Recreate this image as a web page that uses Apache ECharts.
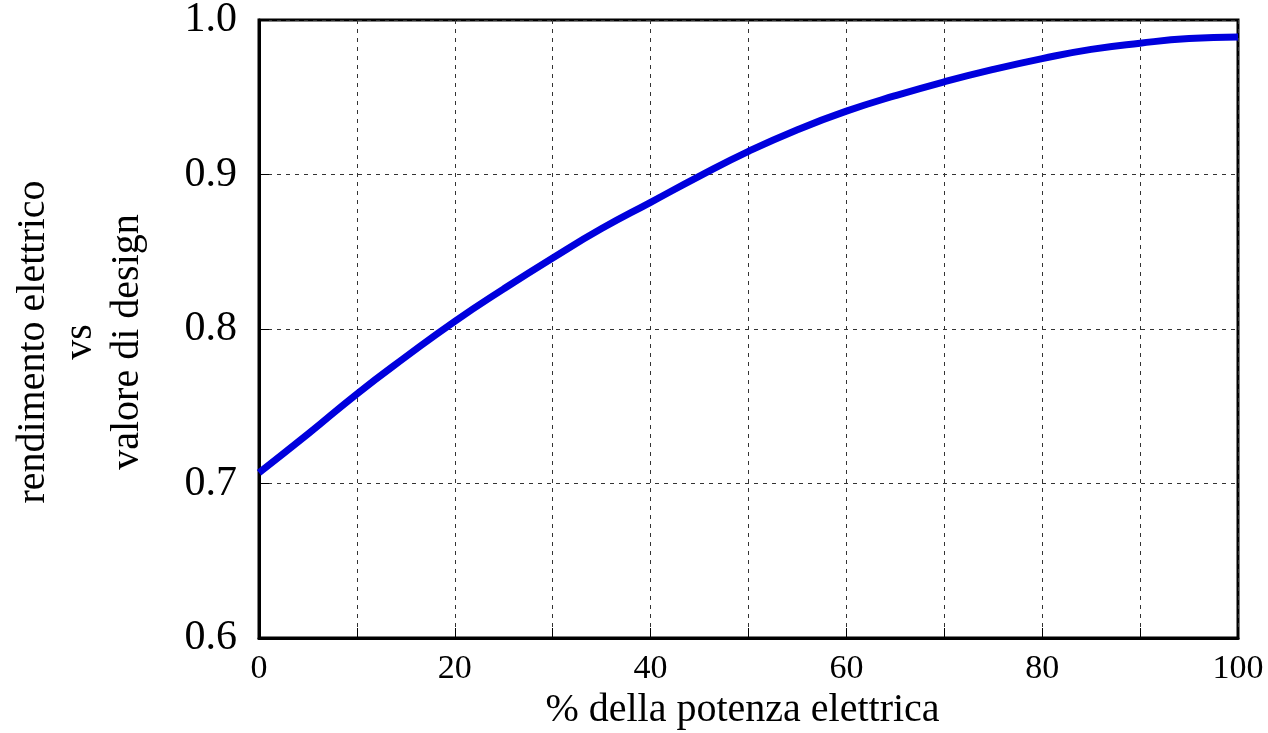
<!DOCTYPE html>
<html><head><meta charset="utf-8">
<script src="https://cdn.jsdelivr.net/npm/echarts@6/dist/echarts.min.js"></script>
<style>html,body{margin:0;padding:0;background:#fff}#c{width:1268px;height:733px}</style>
</head><body><div id="c"></div>
<script>
const xValues = [0,5,10,15,20,25,30,35,40,45,50,55,60,65,70,75,80,85,90,95,100];
const efficiency = [0.707,0.732,0.758,0.782,0.805,0.826,0.846,0.865,0.882,0.899,0.915,0.929,0.941,0.951,0.960,0.968,0.975,0.981,0.985,0.988,0.989];
const xTitle = '% della potenza elettrica';
const yTitle = 'rendimento elettrico\nvs\nvalore di design';
const FONT = '"Liberation Serif","DejaVu Serif",serif';
const chart = echarts.init(document.getElementById('c'), null, {renderer:'canvas'});
chart.setOption({
  animation:false,
  grid:{left:259,right:30,top:20,bottom:95,outerBoundsMode:'none',containLabel:false,show:true,borderColor:'#000',borderWidth:3,backgroundColor:'transparent'},
  xAxis:{type:'value',min:0,max:100,interval:10,
    name:xTitle,nameLocation:'middle',nameGap:46,
    nameTextStyle:{fontFamily:FONT,fontSize:40,color:'#000',padding:[0,12,0,0]},
    axisLine:{show:true,lineStyle:{color:'#000',width:3}},
    axisTick:{show:true,inside:true,length:10,lineStyle:{color:'#000',width:1}},
    axisLabel:{margin:14,fontFamily:FONT,fontSize:34,color:'#000',formatter:v=>(v%20===0?String(v):'')},
    splitLine:{show:true,lineStyle:{color:'#333',width:1,type:[4,5]}}
  },
  yAxis:{type:'value',min:0.6,max:1.0,interval:0.1,
    name:yTitle,nameLocation:'middle',nameGap:108,nameRotate:90,
    nameTextStyle:{fontFamily:FONT,fontSize:40,color:'#000',lineHeight:47,align:'center',padding:[0,26,0,0]},
    axisLine:{show:true,lineStyle:{color:'#000',width:3}},
    axisTick:{show:true,inside:true,length:10,lineStyle:{color:'#000',width:1}},
    axisLabel:{margin:22,fontFamily:FONT,fontSize:42,color:'#000',formatter:v=>v.toFixed(1)},
    splitLine:{show:true,lineStyle:{color:'#333',width:1,type:[4,5]}}
  },
  series:[{type:'line',data:xValues.map((x,i)=>[x,efficiency[i]]),smooth:true,showSymbol:false,
    lineStyle:{color:'#0000dd',width:7},clip:false}]
});
</script></body></html>
